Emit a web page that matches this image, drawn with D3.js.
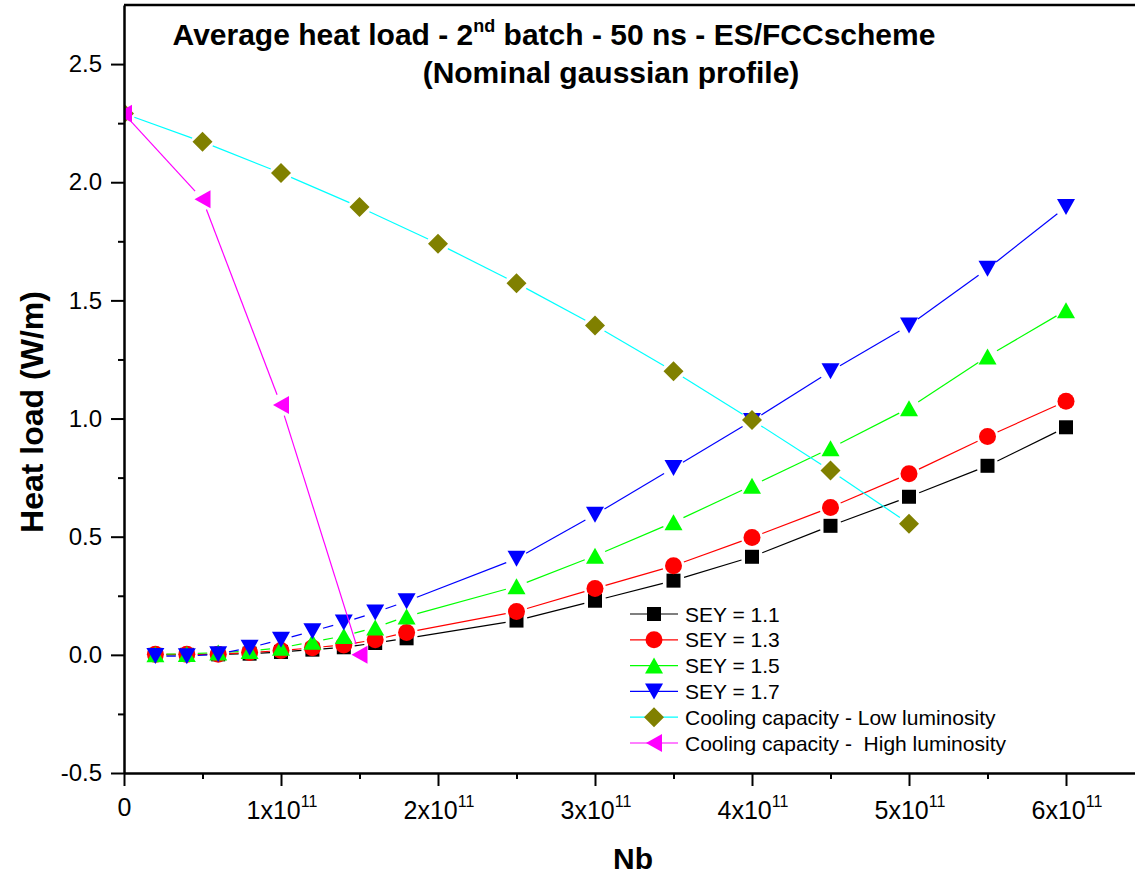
<!DOCTYPE html>
<html>
<head>
<meta charset="utf-8">
<script src="https://cdn.jsdelivr.net/npm/d3@7/dist/d3.min.js"></script>
<style>
  body { margin: 0; background: #fff; }
  svg { display: block; font-family: "Liberation Sans", Arial, sans-serif; }
  text { white-space: pre; }
</style>
</head>
<body>
<svg id="chart" width="1135" height="875"></svg>
<script>
// ---- data (x in units of particles per bunch) ----
const nbSEY = [0.2e11, 0.4e11, 0.6e11, 0.8e11, 1.0e11, 1.2e11, 1.4e11, 1.6e11, 1.8e11,
               2.5e11, 3.0e11, 3.5e11, 4.0e11, 4.5e11, 5.0e11, 5.5e11, 6.0e11];
const sey11 = [0.000, 0.000, 0.002, 0.005, 0.012, 0.022, 0.032, 0.050, 0.070,
               0.145, 0.229, 0.314, 0.415, 0.546, 0.669, 0.800, 0.963];
const sey13 = [0.002, 0.002, 0.003, 0.010, 0.018, 0.030, 0.042, 0.064, 0.095,
               0.183, 0.281, 0.377, 0.497, 0.624, 0.766, 0.924, 1.073];
const sey15 = [0.003, 0.004, 0.010, 0.016, 0.030, 0.055, 0.080, 0.116, 0.162,
               0.290, 0.419, 0.561, 0.716, 0.874, 1.044, 1.263, 1.458];
const sey17 = [-0.005, -0.006, 0.003, 0.030, 0.064, 0.100, 0.137, 0.179, 0.227,
               0.407, 0.593, 0.791, 0.990, 1.200, 1.394, 1.634, 1.895];
const nbLow = [0, 0.5e11, 1.0e11, 1.5e11, 2.0e11, 2.5e11, 3.0e11, 3.5e11, 4.0e11, 4.5e11, 5.0e11];
const coolLow = [2.291, 2.171, 2.039, 1.895, 1.740, 1.573, 1.394, 1.200, 0.994, 0.780, 0.555];
const nbHigh = [0, 0.5e11, 1.0e11, 1.5e11];
const coolHigh = [2.290, 1.928, 1.057, 0.000];

const seriesNames = ["SEY = 1.1", "SEY = 1.3", "SEY = 1.5", "SEY = 1.7",
                     "Cooling capacity - Low luminosity", "Cooling capacity -  High luminosity"];
const yTicks = [-0.5, 0.0, 0.5, 1.0, 1.5, 2.0, 2.5];
const yMinor = [-0.25, 0.25, 0.75, 1.25, 1.75, 2.25];
const xTicks = [0, 1e11, 2e11, 3e11, 4e11, 5e11, 6e11];
const xMinor = [0.5e11, 1.5e11, 2.5e11, 3.5e11, 4.5e11, 5.5e11];
const titleLine1 = ["Average heat load - 2", "nd", " batch - 50 ns - ES/FCCscheme"];
const titleLine2 = "(Nominal gaussian profile)";
const xTitle = "Nb";
const yTitle = "Heat load (W/m)";

// ---- styling ----
const lineColors = ["#000000", "#ff0000", "#00ff00", "#0000ff", "#00ffff", "#ff00ff"];
const markColors = ["#000000", "#ff0000", "#00ff00", "#0000ff", "#808000", "#ff00ff"];
const shapes = ["square", "circle", "up", "down", "diamond", "left"];

const svg = d3.select("#chart");
const L = 124, T = 5, B = 773, R = 1144.5;
const x = d3.scaleLinear().domain([0, 6.5e11]).range([L, R]);
const y = d3.scaleLinear().domain([-0.5, 2.75]).range([B, T]);

svg.append("defs").append("clipPath").attr("id", "plotclip")
  .append("rect").attr("x", L).attr("y", T).attr("width", R - L).attr("height", B - T);

function markerPath(shape) {
  switch (shape) {
    case "square": return "M-7,-7L7,-7L7,7L-7,7Z";
    case "circle": return "M-8.5,0A8.5,8.5 0 1,0 8.5,0A8.5,8.5 0 1,0 -8.5,0Z";
    case "up": return "M0,-8L9,8L-9,8Z";
    case "down": return "M0,8L9,-8L-9,-8Z";
    case "diamond": return "M0,-10L10,0L0,10L-10,0Z";
    case "left": return "M-8,0L8,-9L8,9Z";
  }
}

const plot = svg.append("g").attr("clip-path", "url(#plotclip)");
const GAP = 11;
function drawSeries(xs, ys, i) {
  const pts = xs.map((v, k) => [x(v), y(ys[k])]);
  const segs = [];
  for (let k = 0; k < pts.length - 1; k++) {
    const [x1, y1] = pts[k], [x2, y2] = pts[k + 1];
    const d = Math.hypot(x2 - x1, y2 - y1);
    if (d <= 2 * GAP) continue;
    const ux = (x2 - x1) / d, uy = (y2 - y1) / d;
    segs.push([x1 + ux * GAP, y1 + uy * GAP, x2 - ux * GAP, y2 - uy * GAP]);
  }
  const g = plot.append("g");
  g.selectAll("line").data(segs).join("line")
    .attr("x1", s => s[0]).attr("y1", s => s[1]).attr("x2", s => s[2]).attr("y2", s => s[3])
    .attr("stroke", lineColors[i]).attr("stroke-width", 1.2);
  g.selectAll("path").data(pts).join("path")
    .attr("transform", p => `translate(${p[0]},${p[1]})`)
    .attr("d", markerPath(shapes[i])).attr("fill", markColors[i]);
}
drawSeries(nbSEY, sey11, 0);
drawSeries(nbSEY, sey13, 1);
drawSeries(nbSEY, sey15, 2);
drawSeries(nbSEY, sey17, 3);
drawSeries(nbLow, coolLow, 4);
drawSeries(nbHigh, coolHigh, 5);

// ---- axes ----
const AX = 2.5;
const yAxis = svg.append("g").attr("transform", `translate(${L},0)`)
  .call(d3.axisLeft(y).tickValues(yTicks).tickSize(13).tickSizeOuter(0).tickPadding(9)
        .tickFormat(d => d3.format(".1f")(d).replace("\u2212", "-")));
svg.append("g").attr("transform", `translate(${L},0)`)
  .call(d3.axisLeft(y).tickValues(yMinor).tickSize(6).tickFormat(""))
  .call(g => g.select(".domain").remove());
const xAxis = svg.append("g").attr("transform", `translate(0,${B})`)
  .call(d3.axisBottom(x).tickValues(xTicks).tickSize(13).tickSizeOuter(0).tickFormat(""));
svg.append("g").attr("transform", `translate(0,${B})`)
  .call(d3.axisBottom(x).tickValues(xMinor).tickSize(6).tickFormat(""))
  .call(g => g.select(".domain").remove());
svg.selectAll(".tick line").attr("stroke", "#000").attr("stroke-width", 2);
svg.selectAll(".domain").attr("stroke", "#000").attr("stroke-width", AX);
yAxis.selectAll(".tick text").attr("font-size", 24).attr("fill", "#000")
  .attr("font-family", "Liberation Sans, Arial, sans-serif");

// x tick labels with superscript exponents
xAxis.selectAll(".tick").each(function(d) {
  const t = d3.select(this).append("text").attr("y", 46).attr("fill", "#000")
    .attr("font-size", 25).attr("font-family", "Liberation Sans, Arial, sans-serif");
  if (d === 0) {
    t.attr("text-anchor", "middle").attr("x", 0).attr("y", 43).text("0");
  } else {
    const m = Math.round(d / 1e11);
    t.attr("text-anchor", "start").attr("x", -35);
    t.append("tspan").text(m + "x10");
    t.append("tspan").attr("font-size", 16).attr("dy", -12).text("11");
  }
});
// top frame line
svg.append("line").attr("x1", L).attr("x2", R).attr("y1", T).attr("y2", T)
  .attr("stroke", "#000").attr("stroke-width", AX);

// ---- titles ----
const t1 = svg.append("text").attr("x", 554).attr("y", 45).attr("text-anchor", "middle")
  .attr("font-size", 30).attr("font-weight", "bold");
t1.append("tspan").text(titleLine1[0]);
t1.append("tspan").attr("font-size", 18).attr("dy", -13).text(titleLine1[1]);
t1.append("tspan").attr("dy", 13).text(titleLine1[2]);
svg.append("text").attr("x", 611).attr("y", 83).attr("text-anchor", "middle")
  .attr("font-size", 30).attr("font-weight", "bold").text(titleLine2);
svg.append("text").attr("x", 633).attr("y", 869).attr("text-anchor", "middle")
  .attr("font-size", 30).attr("font-weight", "bold").text(xTitle);
svg.append("text").attr("transform", "translate(43,412) rotate(-90)").attr("text-anchor", "middle")
  .attr("font-size", 32).attr("font-weight", "bold").text(yTitle);

// ---- legend ----
const leg = svg.append("g");
seriesNames.forEach((name, i) => {
  const cy = 614 + i * 25.8;
  leg.append("line").attr("x1", 630).attr("x2", 678).attr("y1", cy).attr("y2", cy)
    .attr("stroke", lineColors[i]).attr("stroke-width", 1.2);
  leg.append("path").attr("transform", `translate(654,${cy})`)
    .attr("d", markerPath(shapes[i])).attr("fill", markColors[i]);
  leg.append("text").attr("x", 685).attr("y", cy + 7.5).attr("font-size", 21)
    .attr("fill", "#000").text(name);
});
</script>
</body>
</html>
